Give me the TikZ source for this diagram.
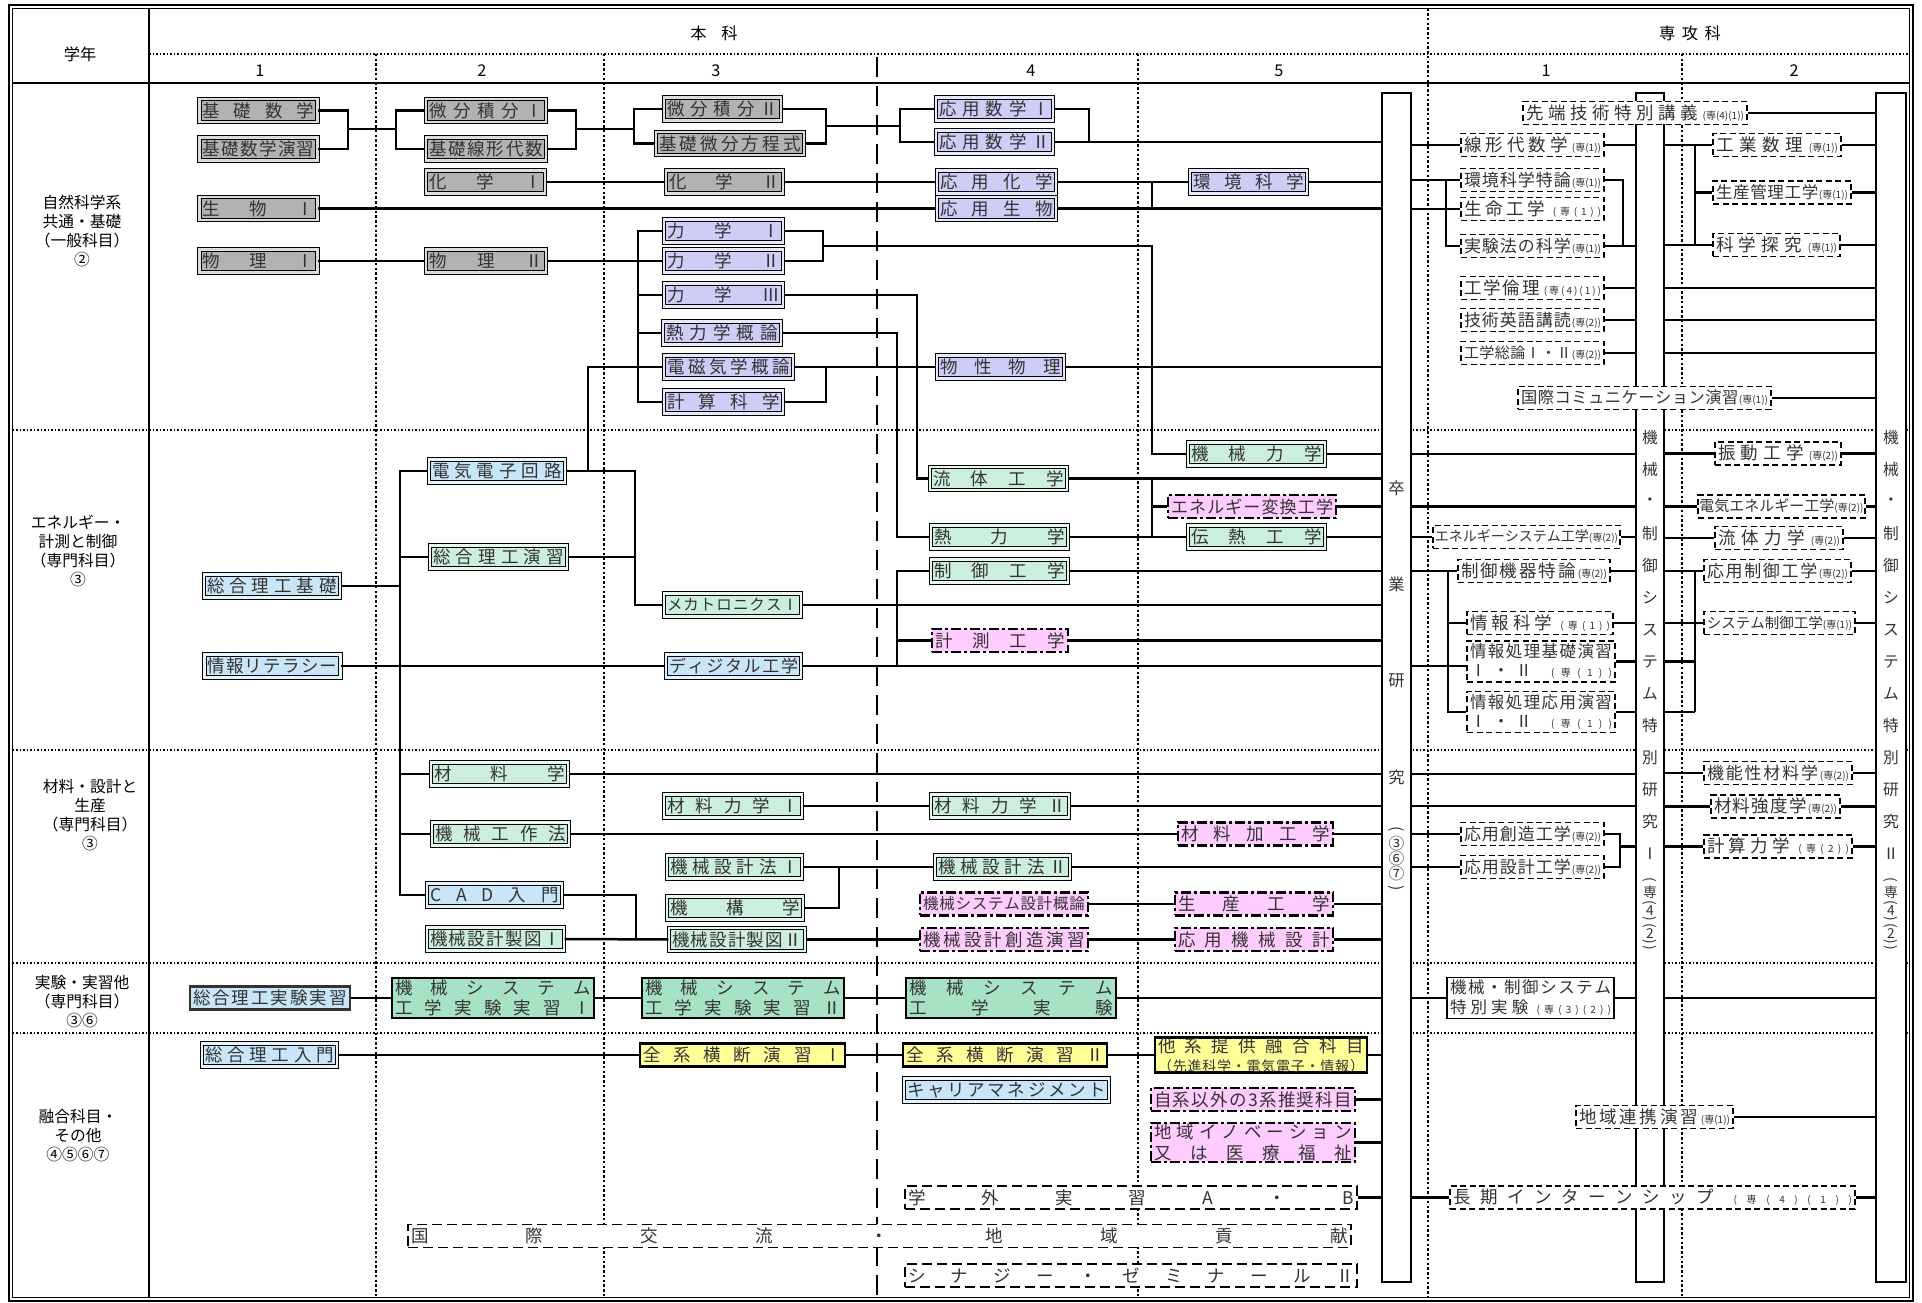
\documentclass[tikz,border=0pt]{standalone}
\usepackage{fontspec}
\setmainfont{Noto Sans CJK JP}
\usepackage{tikz}

\definecolor{cgray}{HTML}{B2B2B2}
\definecolor{clav}{HTML}{CDCDF5}
\definecolor{cblue}{HTML}{C8E6F8}
\definecolor{cgreen}{HTML}{CCEEDC}
\definecolor{cdgreen}{HTML}{A8E2C6}
\definecolor{cpink}{HTML}{FFCCFF}
\definecolor{cyel}{HTML}{FFFF99}

\newdimen\px
\px=0.4pt

\makeatletter
\def\dist#1{\dist@a#1\@nil}
\def\dist@a#1#2\@nil{#1\ifx\relax#2\relax\else\hfill\dist@a#2\@nil\fi}
\makeatother

\newcommand\dt[2]{\makebox[#1\px]{\dist{#2}}}
\newcommand\fs{\fontsize{4}{4}\selectfont}
\newcommand\sA{{\fs(専(1))}}
\newcommand\sB{{\fs(専(2))}}
\newcommand\sC{{\fs(専(4)(1))}}
\newcommand\gp{\mbox{}}
\def\lp{(}
\def\rp{)}

\begin{document}
\begin{tikzpicture}[
    x=0.4pt,
    y=-0.4pt,
    course/.style={rectangle, inner xsep=3\px, inner ysep=0pt, minimum height=23\px,
        text=black!80, font=\fontsize{7}{8}\selectfont},
    dbl/.style={course, draw=black, line width=0.45pt, double distance=0.9pt},
    graybox/.style={dbl, fill=cgray, double=cgray!45!white},
    lavbox/.style={dbl, fill=clav, double=clav!45!white},
    bluebox/.style={dbl, fill=cblue, double=cblue!45!white},
    greenbox/.style={dbl, fill=cgreen, double=cgreen!45!white},
    bluesgl/.style={course, fill=cblue, draw=black!80, line width=0.9pt},
    pinkbox/.style={course, fill=cpink, draw=black, line width=0.9pt,
        dash pattern=on 4pt off 1.2pt on 1.2pt off 1.2pt},
    yelbox/.style={course, fill=cyel, draw=black, line width=0.9pt},
    labbox/.style={course, fill=cdgreen, draw=black, line width=0.9pt, align=center,
        minimum height=40\px, font=\fontsize{7}{8.2}\selectfont},
    senbox/.style={course, fill=white, draw=black, line width=0.5pt,
        dash pattern=on 2.4pt off 1.4pt},
    sglbox/.style={course, fill=white, draw=black, line width=0.6pt},
    widebox/.style={course, fill=white, draw=black, line width=0.7pt,
        dash pattern=on 4pt off 2pt},
    bar/.style={rectangle, draw=black, line width=0.6pt, fill=white, minimum height=1189\px},
    bartxt/.style={inner sep=0pt, text=black!80, font=\fontsize{6.3}{6.3}\selectfont},
    rowlab/.style={align=center, font=\fontsize{6.3}{7.6}\selectfont},
    hdr/.style={font=\fontsize{6.5}{7.5}\selectfont},
    rowsep/.style={line width=0.6pt, dash pattern=on 0.6pt off 0.8pt},
    colsep/.style={line width=0.8pt, dash pattern=on 1pt off 0.9pt},
    yearsep/.style={line width=0.9pt, dash pattern=on 8pt off 3.6pt},
    link/.style={line width=1pt}
]
\useasboundingbox (0,0) rectangle (1922,1303);

\draw[line width=0.7pt] (9,5) rectangle (1913,1301);
\draw[line width=0.7pt] (12.5,8.5) rectangle (1909.5,1297.5);
\draw[line width=1pt] (149,8.5) -- (149,1297.5);
\draw[line width=1.1pt] (12.5,83) -- (1909.5,83);
\draw[rowsep] (149,54) -- (1909.5,54);
\foreach \y in {430,750,963,1033}
    \draw[rowsep] (12.5,\y) -- (1909.5,\y);
\foreach \x in {376,604,1138,1682}
    \draw[colsep] (\x,54) -- (\x,1297.5);
\draw[colsep] (1428,8.5) -- (1428,1297.5);
\draw[yearsep] (877,57) -- (877,1297.5);

\node[hdr] (gakunen) at (80,54) {学年};
\node[hdr] (honka) at (714,33) {本\hspace{0.9em}科};
\node[hdr] (senkoka) at (1690,33) {専\hspace{0.4em}攻\hspace{0.4em}科};
\foreach \x/\t [count=\i] in {260/1,482/2,716/3,1031/4,1279/5,1546/1,1794/2}
    \node[hdr] (yr\i) at (\x,71) {\t};

\node[rowlab] (lab1) at (82,231) {自然科学系\\共通・基礎\\（一般科目）\\②};
\node[rowlab] (lab2) at (78,551) {エネルギー・\\計測と制御\\（専門科目）\\③};
\node[rowlab] (lab3) at (90,815) {材料・設計と\\生産\\（専門科目）\\③};
\node[rowlab] (lab4) at (82,1002) {実験・実習他\\（専門科目）\\③⑥};
\node[rowlab] (lab5) at (78,1136) {融合科目・\\その他\\④⑤⑥⑦};

\node[bar, minimum width=29\px] (sotsu) at (1396.5,687.5) {};
\node[bar, minimum width=28\px] (tokken1) at (1650,687.5) {};
\node[bar, minimum width=30\px] (tokken2) at (1891,687.5) {};

\foreach \c [count=\i] in {卒,業,研,究}
    \node[bartxt, font=\fontsize{6.5}{6.5}\selectfont] (st\i) at (1396.5,{488+96.3*(\i-1)}) {\c};
\foreach \c/\y/\r in {\lp/829/-90,③/844/0,⑥/859/0,⑦/874/0,\rp/888/-90}
    \node[bartxt, rotate=\r] (sp\y) at (1396.5,\y) {\c};
\foreach \bx/\n/\b in {1650/Ⅰ/a,1891/Ⅱ/b} {
    \foreach \c [count=\i] in {機,械,・,制,御,シ,ス,テ,ム,特,別,研,究,\n}
        \node[bartxt] (\b t\i) at (\bx,{438+32*(\i-1)}) {\c};
    \foreach \c/\y/\r in {\lp/880/-90,専/892/0,\lp/903/-90,4/911/0,\rp/919/-90,\lp/926/-90,2/934/0,\rp/942/-90,\rp/948/-90}
        \node[bartxt, font=\fontsize{5.5}{5.5}\selectfont, rotate=\r] (\b p\y) at (\bx,\y) {\c};
}

\node[graybox] (kisosu) at (258.5,110.5) {\dt{112}{基礎数学}};
\node[graybox] (kisoen) at (258.5,149) {\dt{112}{基礎数学演習}};
\node[graybox] (seibutsu) at (258.5,208.5) {\dt{112}{生物Ⅰ}};
\node[graybox] (butsuri1) at (258.5,261) {\dt{112}{物理Ⅰ}};
\node[bluebox] (sogokiso) at (272,586) {\dt{130}{総合理工基礎}};
\node[bluebox] (johoriterasi) at (272.5,666) {\dt{130}{情報リテラシー}};
\node[bluesgl] (sogojikken) at (270,998) {\dt{154}{総合理工実験実習}};
\node[bluebox] (sogonyumon) at (269.5,1055) {\dt{129}{総合理工入門}};

\node[graybox] (bibun1) at (486,110.5) {\dt{114}{微分積分Ⅰ}};
\node[graybox] (senkei) at (486,149) {\dt{114}{基礎線形代数}};
\node[graybox] (kagaku1) at (485.5,182) {\dt{113}{化学Ⅰ}};
\node[graybox] (butsuri2) at (486,261) {\dt{114}{物理Ⅱ}};
\node[bluebox] (denki) at (497,471) {\dt{130}{電気電子回路}};
\node[greenbox] (sogoen) at (498.5,557) {\dt{131}{総合理工演習}};
\node[greenbox] (zairyo) at (499.5,774) {\dt{131}{材料学}};
\node[greenbox] (kosaku) at (500.5,834) {\dt{131}{機械工作法}};
\node[bluebox] (cad) at (494.5,895) {\dt{129}{CAD入門}};
\node[greenbox] (seizu1) at (495.5,939) {\dt{131}{機械設計製図Ⅰ}};
\node[labbox] (jikken1) at (493,998) {\dt{196}{機械システム}\\\dt{196}{工学実験実習Ⅰ}};

\node[graybox] (bibun2) at (722.5,109) {\dt{111}{微分積分Ⅱ}};
\node[graybox] (bibunhou) at (730,143.5) {\dt{142}{基礎微分方程式}};
\node[graybox] (kagaku2) at (724.5,182) {\dt{111}{化学Ⅱ}};
\node[lavbox] (rikigaku1) at (723.5,231) {\dt{113}{力学Ⅰ}};
\node[lavbox] (rikigaku2) at (723.5,261) {\dt{113}{力学Ⅱ}};
\node[lavbox] (rikigaku3) at (723.5,295) {\dt{113}{力学Ⅲ}};
\node[lavbox] (netsugairon) at (722,333) {\dt{112}{熱力学概論}};
\node[lavbox] (denjiki) at (728.5,367) {\dt{123}{電磁気学概論}};
\node[lavbox] (keisan) at (723.5,402) {\dt{113}{計算科学}};
\node[greenbox, font=\fontsize{6.2}{7}\selectfont] (mechatro) at (732.5,605) {\dt{131}{メカトロニクスⅠ}};
\node[bluebox, font=\fontsize{6.8}{8}\selectfont] (digital) at (733.5,666) {\dt{129}{ディジタル工学}};
\node[greenbox] (zairiki1) at (733,806) {\dt{132}{材料力学Ⅰ}};
\node[greenbox] (sekkei1) at (734.5,867) {\dt{129}{機械設計法Ⅰ}};
\node[greenbox] (kiko) at (735,908) {\dt{130}{機構学}};
\node[greenbox] (seizu2) at (737,939.5) {\dt{130}{機械設計製図Ⅱ}};
\node[labbox] (jikken2) at (743,998) {\dt{196}{機械システム}\\\dt{196}{工学実験実習Ⅱ}};
\node[yelbox] (zenkei1) at (742.5,1055) {\dt{199}{全系横断演習Ⅰ}};

\node[lavbox] (ouyou1) at (994.5,109) {\dt{111}{応用数学Ⅰ}};
\node[lavbox] (ouyou2) at (994.5,142) {\dt{111}{応用数学Ⅱ}};
\node[lavbox] (oukagaku) at (996.5,182) {\dt{113}{応用化学}};
\node[lavbox] (ouseibutsu) at (996.5,208.5) {\dt{113}{応用生物}};
\node[lavbox] (bussei) at (1000.5,367) {\dt{121}{物性物理}};
\node[greenbox] (ryutai) at (998.5,478.5) {\dt{131}{流体工学}};
\node[greenbox] (netsurikigaku) at (999.5,537) {\dt{131}{熱力学}};
\node[greenbox] (seigyo) at (999.5,571) {\dt{131}{制御工学}};
\node[pinkbox] (keisoku) at (1000,640.5) {\dt{130}{計測工学}};
\node[greenbox] (zairiki2) at (1000,806) {\dt{132}{材料力学Ⅱ}};
\node[greenbox] (sekkei2) at (1002.5,867) {\dt{129}{機械設計法Ⅱ}};
\node[pinkbox, font=\fontsize{6.2}{7}\selectfont] (sekkeigairon) at (1004,904) {\dt{162}{機械システム設計概論}};
\node[pinkbox] (sozo) at (1004,939.5) {\dt{162}{機械設計創造演習}};
\node[labbox] (jikken3) at (1011,998) {\dt{204}{機械システム}\\\dt{204}{工学実験}};
\node[yelbox] (zenkei2) at (1005,1055) {\dt{198}{全系横断演習Ⅱ}};
\node[bluebox] (career) at (1006.5,1090) {\dt{199}{キャリアマネジメント}};

\node[lavbox] (kankyo) at (1248.5,182) {\dt{111}{環境科学}};
\node[greenbox] (kikairiki) at (1256.5,454) {\dt{131}{機械力学}};
\node[pinkbox, font=\fontsize{6.8}{8}\selectfont] (henkan) at (1252,506.5) {\dt{162}{エネルギー変換工学}};
\node[greenbox] (dennetsu) at (1256.5,537) {\dt{131}{伝熱工学}};
\node[pinkbox] (kako) at (1255.5,834) {\dt{149}{材料加工学}};
\node[pinkbox] (seisan) at (1254,904) {\dt{152}{生産工学}};
\node[pinkbox] (oukikai) at (1254,939.5) {\dt{152}{応用機械設計}};
\node[yelbox, align=center, minimum height=34\px, font=\fontsize{7}{7.6}\selectfont] (takei) at (1261,1055)
    {\dt{206}{他系提供融合科目}\\{\fontsize{5.6}{6}\selectfont\dt{206}{（先進科学・電気電子・情報）}}};
\node[pinkbox] (jikei) at (1253,1099.5) {\dt{198}{自系以外の3系推奨科目}};
\node[pinkbox, align=center, minimum height=39\px, font=\fontsize{7}{8.2}\selectfont] (chiiki) at (1253,1142.5)
    {\dt{198}{地域イノベーション}\\\dt{198}{又は医療福祉}};
\node[widebox] (gakugai) at (1131,1197.5) {\dt{446}{学外実習A・B}};
\node[widebox] (kokusai) at (879.5,1236) {\dt{937}{国際交流・地域貢献}};
\node[widebox] (synergy) at (1131,1275.5) {\dt{446}{シナジー・ゼミナールⅡ}};

\node[senbox] (sentan) at (1635,113) {\dt{218}{先端技術特別講義\sC}};
\node[senbox] (senkeidaisu) at (1532.5,145) {\dt{137}{線形代数学\sA}};
\node[senbox, font=\fontsize{6.8}{8}\selectfont] (kankyotoku) at (1532.5,180) {\dt{137}{環境科学特論\sA}};
\node[senbox] (seimei) at (1532.5,209) {\dt{137}{生命工学\fs(専(1))}};
\node[senbox, font=\fontsize{6.8}{8}\selectfont] (jikkenho) at (1532.5,246) {\dt{137}{実験法の科学\sA}};
\node[senbox] (rinri) at (1532.5,288) {\dt{137}{工学倫理\fs(専(4)(1))}};
\node[senbox, font=\fontsize{6.8}{8}\selectfont] (eigo) at (1532.5,320) {\dt{137}{技術英語講読\sB}};
\node[senbox, font=\fontsize{6}{7}\selectfont] (soron) at (1532.5,353) {\dt{137}{工学総論Ⅰ・Ⅱ\sB}};
\node[senbox, font=\fontsize{6.5}{8}\selectfont] (kokusaicomm) at (1644.5,398) {\dt{247}{国際コミュニケーション演習\sA}};
\node[senbox, font=\fontsize{5.6}{7}\selectfont] (enesys) at (1526.5,537) {\dt{181}{エネルギーシステム工学\sB}};
\node[senbox] (seigyokiki) at (1534,571) {\dt{146}{制御機器特論\sB}};
\node[senbox] (johokagaku) at (1540,623) {\dt{140}{情報科学\fs(専(1))}};
\node[senbox, align=center, minimum height=41\px, font=\fontsize{6.6}{7.6}\selectfont] (johokiso) at (1541,661.5)
    {\dt{142}{情報処理基礎演習}\\\dt{142}{Ⅰ・Ⅱ\gp\fs(専(1))}};
\node[senbox, align=center, minimum height=41\px, font=\fontsize{6.6}{7.6}\selectfont] (johoouyou) at (1541,712)
    {\dt{142}{情報処理応用演習}\\\dt{142}{Ⅰ・Ⅱ\gp\fs(専(1))}};
\node[senbox, font=\fontsize{6.8}{8}\selectfont] (ousozo) at (1532.5,834) {\dt{137}{応用創造工学\sB}};
\node[senbox, font=\fontsize{6.8}{8}\selectfont] (ousekkei) at (1532.5,867) {\dt{137}{応用設計工学\sB}};
\node[sglbox, align=center, minimum height=41\px, font=\fontsize{6.6}{8}\selectfont] (tokujikken) at (1530.5,998)
    {\dt{161}{機械・制御システム}\\\dt{161}{特別実験\fs(専(3)(2))}};
\node[senbox] (renkei) at (1654.5,1117) {\dt{151}{地域連携演習\sA}};
\node[senbox] (choki) at (1652.5,1197.5) {\dt{399}{長期インターンシップ\fs(専(4)(1))}};

\node[senbox] (kogyo) at (1777,145) {\dt{122}{工業数理\sA}};
\node[senbox, font=\fontsize{6.6}{8}\selectfont] (seisankanri) at (1782,192.5) {\dt{132}{生産管理工学\sA}};
\node[senbox] (tankyu) at (1776.5,245) {\dt{121}{科学探究\sA}};
\node[senbox] (shindo) at (1778,453.5) {\dt{120}{振動工学\sB}};
\node[senbox, font=\fontsize{6}{7}\selectfont] (denene) at (1781.5,506.5) {\dt{161}{電気エネルギー工学\sB}};
\node[senbox] (ryutairiki) at (1779,538) {\dt{122}{流体力学\sB}};
\node[senbox, font=\fontsize{6.8}{8}\selectfont] (ouseigyo) at (1777.5,571) {\dt{141}{応用制御工学\sB}};
\node[senbox, font=\fontsize{5.8}{7}\selectfont] (sysseigyo) at (1779.5,623) {\dt{145}{システム制御工学\sA}};
\node[senbox, font=\fontsize{6.8}{8}\selectfont] (kinosei) at (1778,773) {\dt{142}{機能性材料学\sB}};
\node[senbox] (kyodo) at (1775.5,806.5) {\dt{123}{材料強度学\sB}};
\node[senbox] (keisanriki) at (1778,846.5) {\dt{142}{計算力学\fs(専(2))}};

\begin{scope}[link]
\coordinate (j1) at (348,129);
\coordinate (j2) at (396,129);
\coordinate (j3) at (576,129);
\coordinate (j4) at (634,129);
\coordinate (j5) at (826,126);
\coordinate (j6) at (900,126);
\coordinate (j7) at (1089,0);
\coordinate (j8) at (1152,0);
\coordinate (j9) at (638,0);
\coordinate (j10) at (823,246);
\coordinate (j11) at (917,0);
\coordinate (j12) at (897,0);
\coordinate (j13) at (826,0);
\coordinate (j14) at (400,0);
\coordinate (j15) at (588,0);
\coordinate (j16) at (635,0);
\coordinate (j17) at (636,0);
\coordinate (j18) at (839,0);
\coordinate (j19) at (1446,0);
\coordinate (j20) at (1623,0);
\coordinate (j21) at (1695,0);
\coordinate (j22) at (1448,0);
\coordinate (j23) at (1620,0);

\draw (kisosu.east) -| (j1) |- (kisoen.east);
\draw (j1) -- (j2);
\draw (bibun1.west) -| (j2) |- (senkei.west);
\draw (bibun1.east) -| (j3) |- (senkei.east);
\draw (j3) -- (j4);
\draw (bibun2.west) -| (j4) |- (bibunhou.west);
\draw (bibun2.east) -| (j5) |- (bibunhou.east);
\draw (j5) -- (j6);
\draw (ouyou1.west) -| (j6) |- (ouyou2.west);
\draw (ouyou1.east) -| (j7 |- ouyou2.east);
\draw (ouyou2.east) -- (ouyou2.east -| sotsu.west);
\draw (kagaku1.east) -- (kagaku2.west);
\draw (kagaku2.east) -- (oukagaku.west);
\draw (oukagaku.east) -- (kankyo.west);
\draw (kankyo.east) -- (kankyo.east -| sotsu.west);
\draw (seibutsu.east) -- (ouseibutsu.west);
\draw (ouseibutsu.east) -- (ouseibutsu.east -| sotsu.west);
\draw (j8 |- oukagaku.east) -- (j8 |- ouseibutsu.east);
\draw (butsuri1.east) -- (butsuri2.west);
\draw (butsuri2.east) -- (rikigaku2.west);
\draw (rikigaku1.west) -- (j9 |- rikigaku1.west) -- (j9 |- keisan.west) -- (keisan.west);
\draw (j9 |- rikigaku3.west) -- (rikigaku3.west);
\draw (j9 |- netsugairon.west) -- (netsugairon.west);
\draw (j9 |- denjiki.west) -- (denjiki.west);
\draw (rikigaku1.east) -| (j10) |- (rikigaku2.east);
\draw (j10) -| (j8 |- kikairiki.west) -- (kikairiki.west);
\draw (rikigaku3.east) -| (j11 |- ryutai.west) -- (ryutai.west);
\draw (netsugairon.east) -| (j12 |- netsurikigaku.west) -- (netsurikigaku.west);
\draw (denjiki.east) -- (bussei.west);
\draw (keisan.east) -| (j13 |- denjiki.east);
\draw (bussei.east) -- (bussei.east -| sotsu.west);

\draw (denki.west) -- (j14 |- denki.west) -- (j14 |- cad.west) -- (cad.west);
\draw (sogokiso.east) -- (j14 |- sogokiso.east);
\draw (j14 |- sogoen.west) -- (sogoen.west);
\draw (j14 |- zairyo.west) -- (zairyo.west);
\draw (j14 |- kosaku.west) -- (kosaku.west);
\draw (denki.east) -| (j15 |- denjiki.west) -- (denjiki.west);
\draw (denki.east) -| (j16 |- mechatro.west) -- (mechatro.west);
\draw (sogoen.east) -- (j16 |- sogoen.east);
\draw (johoriterasi.east) -- (digital.west);
\draw (digital.east) -- (digital.east -| sotsu.west);
\draw (seigyo.west) -| (j12 |- digital.east);
\draw (j12 |- keisoku.west) -- (keisoku.west);
\draw (mechatro.east) -- (mechatro.east -| sotsu.west);
\draw (seigyo.east) -- (seigyo.east -| sotsu.west);
\draw (keisoku.east) -- (keisoku.east -| sotsu.west);
\draw (ryutai.east) -- (ryutai.east -| sotsu.west);
\draw (j8 |- ryutai.east) -- (j8 |- dennetsu.west);
\draw (j8 |- henkan.west) -- (henkan.west);
\draw (netsurikigaku.east) -- (dennetsu.west);
\draw (kikairiki.east) -- (kikairiki.east -| sotsu.west);
\draw (henkan.east) -- (henkan.east -| sotsu.west);
\draw (dennetsu.east) -- (dennetsu.east -| sotsu.west);

\draw (zairyo.east) -- (zairyo.east -| sotsu.west);
\draw (zairiki1.east) -- (zairiki2.west);
\draw (zairiki2.east) -- (zairiki2.east -| sotsu.west);
\draw (kosaku.east) -- (kako.west);
\draw (kako.east) -- (kako.east -| sotsu.west);
\draw (cad.east) -| (j17 |- seizu1.east);
\draw (seizu1.east) -- (seizu2.west);
\draw (sekkei1.east) -- (sekkei2.west);
\draw (kiko.east) -| (j18 |- sekkei1.east);
\draw (sekkei2.east) -- (sekkei2.east -| sotsu.west);
\draw (sekkeigairon.east) -- (seisan.west);
\draw (seisan.east) -- (seisan.east -| sotsu.west);
\draw (seizu2.east) -- (sozo.west);
\draw (sozo.east) -- (oukikai.west);
\draw (oukikai.east) -- (oukikai.east -| sotsu.west);

\draw (sogojikken.east) -- (jikken1.west);
\draw (jikken1.east) -- (jikken2.west);
\draw (jikken2.east) -- (jikken3.west);
\draw (jikken3.east) -- (jikken3.east -| sotsu.west);
\draw (sogonyumon.east) -- (zenkei1.west);
\draw (zenkei1.east) -- (zenkei2.west);
\draw (zenkei2.east) -- (takei.west);
\draw (takei.east) -- (takei.east -| sotsu.west);
\draw (jikei.east) -- (jikei.east -| sotsu.west);
\draw (chiiki.east) -- (chiiki.east -| sotsu.west);
\draw (gakugai.east) -- (gakugai.east -| sotsu.west);

\draw (sotsu.east |- senkeidaisu.west) -- (senkeidaisu.west);
\draw (senkeidaisu.east) -- (senkeidaisu.east -| tokken1.west);
\draw (sotsu.east |- kankyotoku.west) -- (kankyotoku.west);
\draw (sotsu.east |- seimei.west) -- (seimei.west);
\draw (j19 |- kankyotoku.west) |- (jikkenho.west);
\draw (kankyotoku.east) -| (j20 |- jikkenho.east);
\draw (jikkenho.east) -- (jikkenho.east -| tokken1.west);
\foreach \n in {rinri,eigo,soron} {
    \draw (\n.east) -- (\n.east -| tokken1.west);
    \draw (tokken1.east |- \n.east) -- (tokken2.west |- \n.east);
}
\draw (sentan.east) -- (sentan.east -| tokken2.west);
\draw (kokusaicomm.east) -- (kokusaicomm.east -| tokken2.west);
\draw (tokken1.east |- kogyo.west) -- (kogyo.west);
\draw (tokken1.east |- tankyu.west) -- (tankyu.west);
\draw (j21 |- kogyo.west) -- (j21 |- tankyu.west);
\draw (j21 |- seisankanri.west) -- (seisankanri.west);
\foreach \n in {kogyo,seisankanri,tankyu}
    \draw (\n.east) -- (\n.east -| tokken2.west);

\draw (sotsu.east |- kikairiki.east) -- (tokken1.west |- kikairiki.east);
\draw (tokken1.east |- shindo.west) -- (shindo.west);
\draw (sotsu.east |- henkan.east) -- (tokken1.west |- henkan.east);
\draw (tokken1.east |- denene.west) -- (denene.west);
\draw (sotsu.east |- enesys.west) -- (enesys.west);
\draw (enesys.east) -- (enesys.east -| tokken1.west);
\draw (tokken1.east |- ryutairiki.west) -- (ryutairiki.west);
\draw (sotsu.east |- seigyokiki.west) -- (seigyokiki.west);
\draw (j22 |- seigyokiki.west) |- (johoouyou.west);
\draw (j22 |- johokagaku.west) -- (johokagaku.west);
\draw (sotsu.east |- digital.east) -- (johokiso.west |- digital.east);
\foreach \n in {seigyokiki,johokagaku,johokiso,johoouyou}
    \draw (\n.east) -- (\n.east -| tokken1.west);
\draw (tokken1.east |- ouseigyo.west) -- (ouseigyo.west);
\draw (tokken1.east |- sysseigyo.west) -- (sysseigyo.west);
\draw (tokken1.east |- johokiso.east) -- (j21 |- johokiso.east);
\draw (tokken1.east |- johoouyou.east) -- (j21 |- johoouyou.east);
\draw (j21 |- ouseigyo.west) -- (j21 |- johoouyou.east);
\foreach \n in {shindo,denene,ryutairiki,ouseigyo,sysseigyo}
    \draw (\n.east) -- (\n.east -| tokken2.west);

\draw (sotsu.east |- zairyo.east) -- (tokken1.west |- zairyo.east);
\draw (sotsu.east |- zairiki2.east) -- (tokken1.west |- zairiki2.east);
\draw (tokken1.east |- kinosei.west) -- (kinosei.west);
\draw (tokken1.east |- kyodo.west) -- (kyodo.west);
\draw (sotsu.east |- ousozo.west) -- (ousozo.west);
\draw (sotsu.east |- ousekkei.west) -- (ousekkei.west);
\draw (ousozo.east) -| (j23 |- ousekkei.east) -- (ousekkei.east);
\draw (j23 |- keisanriki.west) -- (tokken1.west |- keisanriki.west);
\draw (tokken1.east |- keisanriki.west) -- (keisanriki.west);
\foreach \n in {kinosei,kyodo,keisanriki}
    \draw (\n.east) -- (\n.east -| tokken2.west);

\draw (sotsu.east |- tokujikken.west) -- (tokujikken.west);
\draw (tokujikken.east) -- (tokujikken.east -| tokken1.west);
\draw (tokken1.east |- tokujikken.east) -- (tokken2.west |- tokujikken.east);
\draw (renkei.east) -- (renkei.east -| tokken2.west);
\draw (sotsu.east |- choki.west) -- (choki.west);
\draw (choki.east) -- (choki.east -| tokken2.west);
\end{scope}

\end{tikzpicture}
\end{document}
